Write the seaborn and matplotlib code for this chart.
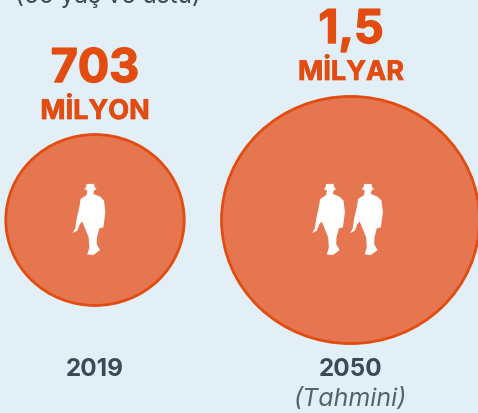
import numpy as np
import pandas as pd
import seaborn as sns
import matplotlib.pyplot as plt
from matplotlib.path import Path
from matplotlib.transforms import Affine2D
import matplotlib.patheffects as pe

years = ['2019', '2050']
population = [703, 1500]  # million people, 65+
amount_labels = ['703', '1,5']
unit_labels = ['MİLYON', 'MİLYAR']
icon_slots = [0.0, 0.9375, 1.086]  # one figure in 2019, two in 2050

BG = '#E3EFF6'
FILL = '#E67650'
EDGE = '#E24C10'
DARK = '#3B4A56'

sns.set_theme(style='white')
plt.rcParams['font.family'] = ['Inter', 'DejaVu Sans']

# walking man outline
man = [(110, 45), (132, 45), (134, 55), (140, 60), (132, 65), (130, 75), (150, 83),
       (162, 95), (166, 130), (160, 175), (148, 178), (141, 205), (140, 225), (150, 243),
       (130, 258), (112, 256), (118, 235), (116, 205), (106, 180), (100, 165), (96, 158),
       (90, 165), (82, 185), (68, 192), (76, 178), (80, 150), (88, 115), (92, 90), (110, 78),
       (112, 65), (103, 60), (108, 55), (110, 45)]
man = np.array(man, dtype=float)
man = (man - [135, 153]) * [1, -1]
man_marker = Path(man, closed=True)

# the circles are very slightly squashed in the reference
bubble = Path.unit_circle().transformed(Affine2D().scale(1, 0.958))

df = pd.DataFrame({'year': years, 'population': population, 'y': [0, 0]})

fig = plt.figure(figsize=(4.78, 4.14), dpi=100, facecolor=BG)
ax = fig.add_axes([0, 0, 1, 1], facecolor=BG)

sns.scatterplot(data=df, x='year', y='y', size='population', sizes=(16500, 34500),
                size_norm=(703, 1500), marker=bubble, color=FILL, edgecolor=EDGE, linewidth=2,
                alpha=1, legend=False, ax=ax, clip_on=False, zorder=2)

icons = pd.DataFrame({'x': icon_slots, 'y': [0] * len(icon_slots)})
sns.scatterplot(data=icons, x='x', y='y', marker=man_marker, s=2700, color='white',
                edgecolor='none', legend=False, ax=ax, zorder=3)

# axis scales set so the circles land where they sit in the reference
ax.set_xlim(-95 / 255.5, (478 - 95) / 255.5)
ax.set_ylim(-(414 - 221), 221)
ax.set_axis_off()


def label(px, py, s, bold=0, **kw):
    t = fig.text(px / 478, 1 - py / 414, s, ha='center', va='center', **kw)
    if bold:
        t.set_path_effects([pe.withStroke(linewidth=bold, foreground=kw['color'])])


label(108, -5, '(65 yaş ve üstü)', fontsize=17.5, color=DARK)
label(95, 71, amount_labels[0], bold=1, fontsize=33.5, color=EDGE, fontweight='bold')
label(95, 113, unit_labels[0], bold=0.5, fontsize=19.5, color=EDGE, fontweight='bold')
label(351, 32, amount_labels[1], bold=1, fontsize=33.5, color=EDGE, fontweight='bold')
label(351, 74, unit_labels[1], bold=0.5, fontsize=19.5, color=EDGE, fontweight='bold')
label(95, 370, years[0], fontsize=17.5, color=DARK, fontweight='bold')
label(351, 370, years[1], fontsize=17.5, color=DARK, fontweight='bold')
label(351, 400, '(Tahmini)', fontsize=18, color='#55626C', style='italic')

fig.savefig('out.png', dpi=100, facecolor=BG)
